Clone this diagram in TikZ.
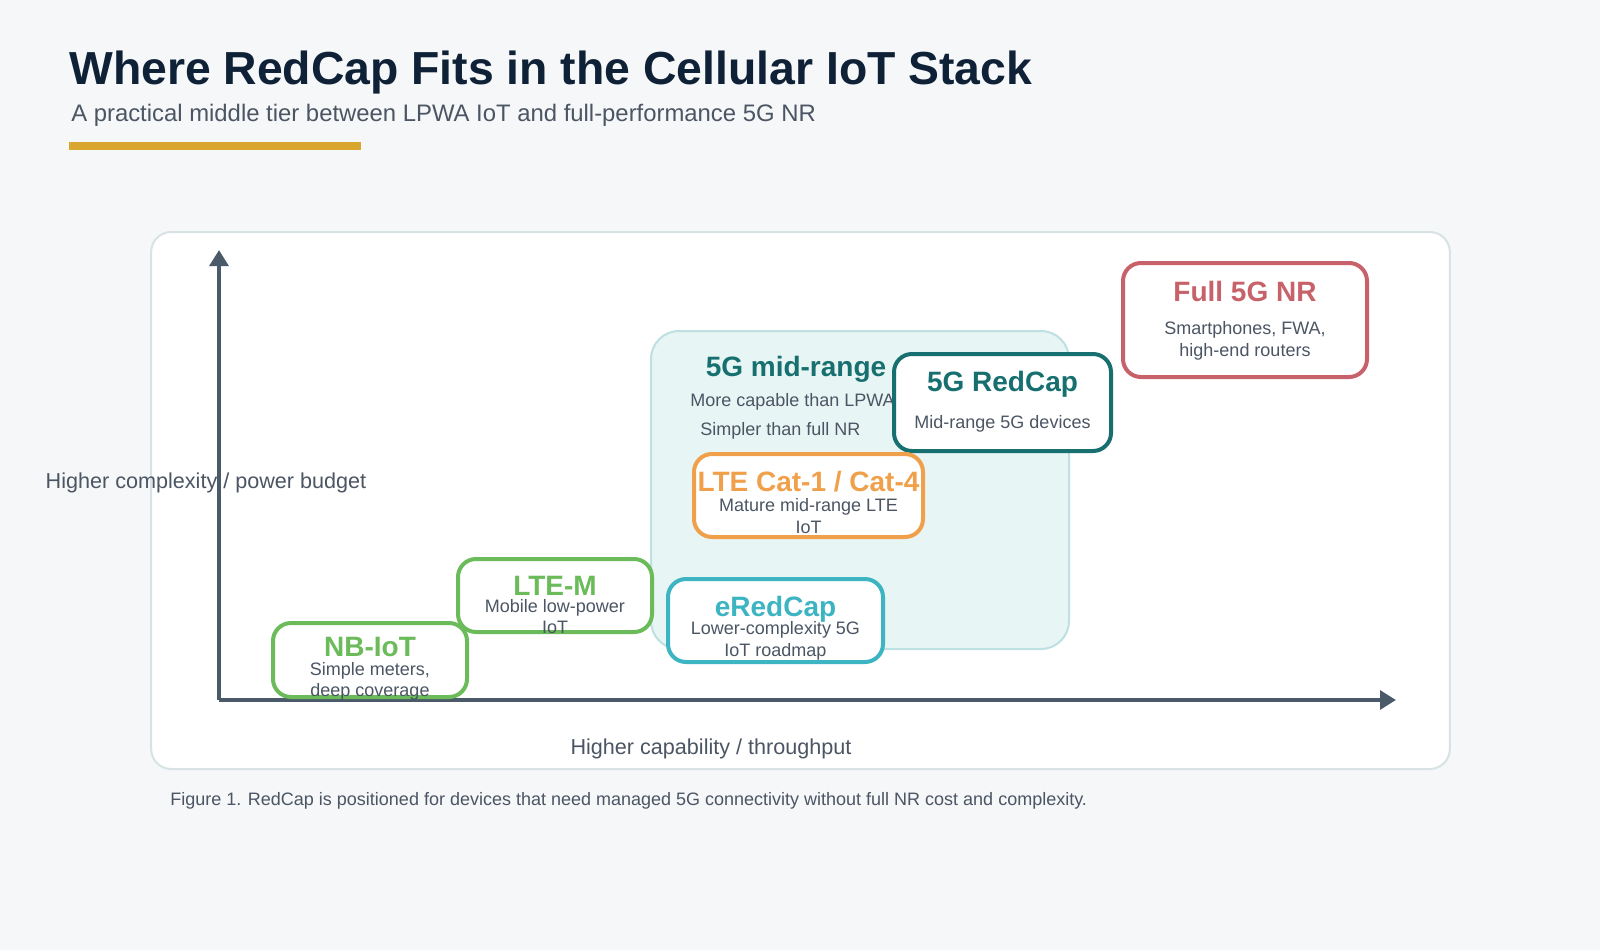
\documentclass[tikz,border=0pt]{standalone}
\usepackage{fontspec}
\setmainfont{Liberation Sans}
\usetikzlibrary{arrows.meta}
\definecolor{bgc}{HTML}{F5F7F9}
\definecolor{panelb}{HTML}{D8E2E5}
\definecolor{midfill}{HTML}{E8F5F5}
\definecolor{midb}{HTML}{BFE0E2}
\definecolor{tealc}{HTML}{17706F}
\definecolor{redc}{HTML}{C8626A}
\definecolor{orangec}{HTML}{F0A04B}
\definecolor{greenc}{HTML}{6BBB5A}
\definecolor{cyanc}{HTML}{3DB4C2}
\definecolor{goldc}{HTML}{D9A62E}
\definecolor{axisc}{HTML}{4A5A68}
\definecolor{txtc}{HTML}{4B5563}
\definecolor{titlec}{HTML}{0F2136}
\tikzset{
  tierbox/.style={draw=#1, line width=3pt, fill=white, rounded corners=13.5pt, inner sep=0pt},
  tiertitle/.style={text=#1, font=\fontsize{21pt}{24pt}\selectfont\bfseries, inner sep=0pt, anchor=base},
  tiersub/.style={text=txtc, font=\fontsize{13.5pt}{16pt}\selectfont, inner sep=0pt, anchor=base},
  axislabel/.style={text=txtc, font=\fontsize{16.2pt}{19pt}\selectfont, inner sep=0pt, anchor=base},
}
\begin{document}
\begin{tikzpicture}[x=0.75pt,y=-0.75pt]
\fill[bgc] (0,0) rectangle (1600,950);
\useasboundingbox (0,0) rectangle (1600,950);
% heading
\node[anchor=base west, inner sep=0pt, text=titlec, font=\fontsize{34.75pt}{40pt}\selectfont\bfseries] (title) at (69,84) {Where RedCap Fits in the Cellular IoT Stack};
\node[anchor=base west, inner sep=0pt, text=txtc, font=\fontsize{17.9pt}{21pt}\selectfont] (subtitle) at (71,121) {A practical middle tier between LPWA IoT and full-performance 5G NR};
\node[fill=goldc, inner sep=0pt, minimum width=219pt, minimum height=6pt] (bar) at (215,146) {};
% panel
\node[draw=panelb, line width=1.5pt, fill=white, rounded corners=15pt, minimum width=974pt, minimum height=402.75pt, inner sep=0pt] (panel) at (800.5,500.5) {};
% axes
\coordinate (origin) at (219,700);
\coordinate (ytop) at (219,250);
\coordinate (xend) at (1396,700);
\draw[axisc, line width=3pt, -{Triangle[width=14pt,length=12pt]}] (origin) -- (ytop);
\draw[axisc, line width=3pt, -{Triangle[width=14pt,length=12pt]}] (origin) -- (xend);
\node[axislabel] (ylab) at (206,488) {Higher complexity / power budget};
\node[axislabel] (xlab) at (711,754) {Higher capability / throughput};
% mid-range region
\node[draw=midb, line width=1.5pt, fill=midfill, rounded corners=21pt, minimum width=313.5pt, minimum height=238.5pt, inner sep=0pt] (mid) at (860,490) {};
\node[tiertitle=tealc] (midt) at (796,376) {5G mid-range};
\node[tiersub, anchor=base west] (mids1) at (690,406) {More capable than LPWA};
\node[tiersub, anchor=base west] (mids2) at (700,435) {Simpler than full NR};
% boxes
\node[tierbox=tealc, minimum width=162.75pt, minimum height=72.75pt] (redcap) at (1002.5,402.5) {};
\node[tiertitle=tealc] (redcapt) at (1002.5,391) {5G RedCap};
\node[tiersub] (redcaps) at (1002.5,428) {Mid-range 5G devices};

\node[tierbox=redc, minimum width=183pt, minimum height=85.5pt] (full) at (1245,320) {};
\node[tiertitle=redc] (fullt) at (1245,301) {Full 5G NR};
\node[tiersub] (fulls1) at (1245,334) {Smartphones, FWA,};
\node[tiersub] (fulls2) at (1245,356) {high-end routers};

\node[tierbox=orangec, minimum width=171.75pt, minimum height=62.25pt] (lte) at (808.5,495.5) {};
\node[tiertitle=orangec] (ltet) at (808.5,491) {LTE Cat-1 / Cat-4};
\node[tiersub] (ltes1) at (808.5,511) {Mature mid-range LTE};
\node[tiersub] (ltes2) at (808.5,533) {IoT};

\node[tierbox=greenc, minimum width=145.5pt, minimum height=54.75pt] (ltem) at (555,595.5) {};
\node[tiertitle=greenc] (ltemt) at (555,595) {LTE-M};
\node[tiersub] (ltems1) at (555,612) {Mobile low-power};
\node[tiersub] (ltems2) at (555,633) {IoT};

\node[tierbox=greenc, minimum width=145.5pt, minimum height=55.5pt] (nb) at (370,660) {};
\node[tiertitle=greenc] (nbt) at (370,656) {NB-IoT};
\node[tiersub] (nbs1) at (370,675) {Simple meters,};
\node[tiersub] (nbs2) at (370,696) {deep coverage};

\node[tierbox=cyanc, minimum width=161.25pt, minimum height=62.25pt] (ered) at (775.5,620.5) {};
\node[tiertitle=cyanc] (eredt) at (775.5,616) {eRedCap};
\node[tiersub] (ereds1) at (775.5,634) {Lower-complexity 5G};
\node[tiersub] (ereds2) at (775.5,656) {IoT roadmap};
% caption
\node[anchor=base west, inner sep=0pt, text=txtc, font=\fontsize{13.5pt}{16pt}\selectfont] (caption) at (170,805) {Figure 1. RedCap is positioned for devices that need managed 5G connectivity without full NR cost and complexity.};
\end{tikzpicture}
\end{document}
